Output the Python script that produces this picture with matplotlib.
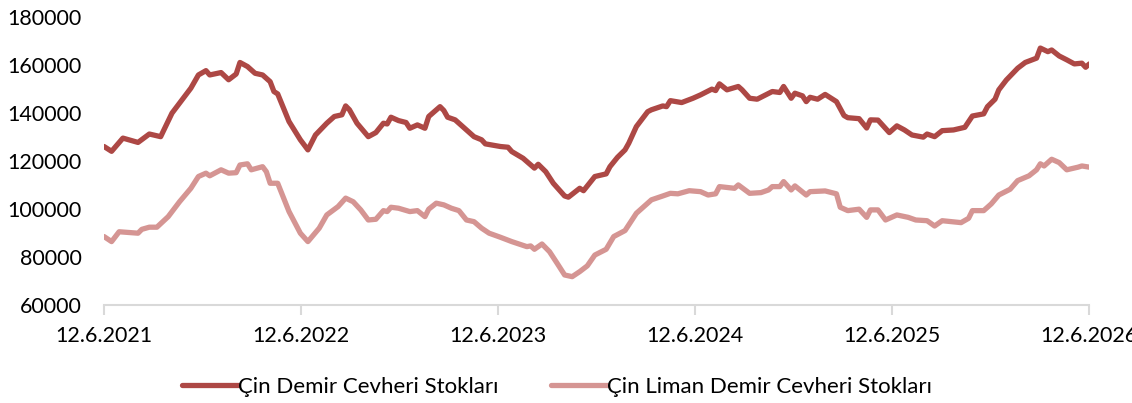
import pandas as pd
import matplotlib.pyplot as plt
import matplotlib.dates as mdates

start = pd.Timestamp("2021-06-12")

# weekly data, weeks since 12.6.2021
dark_weeks = [0, 2, 5, 9, 12, 15, 18, 23, 25, 27, 28, 31, 33, 35, 36, 38, 40, 42, 44, 45,
              46, 49, 52, 54, 56, 59, 61, 63, 64, 65, 67, 70, 72, 74, 75, 76, 78, 80, 81, 83,
              85, 86, 89, 90, 91, 93, 95, 98, 100, 101, 105, 107, 108, 111, 114, 115, 117, 119, 122, 123,
              126, 127, 130, 133, 134, 136, 138, 139, 141, 144, 145, 148, 149, 150, 153, 156, 158, 161, 162, 163,
              165, 168, 169, 171, 173, 177, 179, 180, 182, 183, 185, 186, 187, 189, 191, 194, 196, 197, 200, 202,
              203, 205, 208, 210, 212, 214, 217, 218, 220, 222, 225, 228, 230, 233, 234, 236, 237, 239, 242, 244,
              247, 248, 250, 251, 253, 255, 257, 259, 260, 261]
dark_vals = [126000, 124000, 129500, 127700, 131200, 130100, 139900, 150300, 155800, 157600,
             155800, 156800, 153800, 156200, 161000, 159300, 156500, 155800, 153000, 148900,
             147900, 136400, 128800, 124600, 130800, 135700, 138500, 139200, 142900, 141300,
             135700, 130100, 131800, 135700, 135400, 138200, 136800, 136000, 133600, 135000,
             133600, 138500, 142600, 141000, 138200, 137100, 134300, 130100, 128800, 127100,
             126000, 125700, 123900, 121100, 117000, 118600, 115500, 110700, 105400, 104900,
             108600, 107600, 113500, 114600, 117600, 121500, 124600, 127400, 134300, 140500,
             141300, 142900, 142600, 145100, 144300, 146100, 147500, 149900, 149300, 152100,
             149600, 151000, 149600, 146100, 145700, 148900, 148500, 151000, 146100, 148200,
             147100, 144700, 146500, 145700, 147700, 144700, 138900, 138000, 137600, 133700,
             137100, 137000, 131800, 134600, 132900, 130800, 129900, 131200, 130100, 132600,
             132900, 134000, 138700, 139600, 142600, 145700, 149600, 153700, 158600, 161000,
             162800, 167000, 165500, 166200, 163700, 162100, 160400, 160700, 159000, 160400]

light_weeks = [0, 2, 4, 9, 10, 12, 14, 17, 20, 23, 25, 27, 28, 31, 33, 35, 36, 38, 39, 42,
               43, 44, 46, 49, 52, 54, 57, 59, 62, 64, 66, 68, 70, 72, 74, 75, 76, 78, 81, 83,
               85, 86, 88, 90, 92, 94, 96, 98, 100, 102, 105, 108, 112, 113, 114, 116, 118, 120, 122, 124,
               126, 128, 130, 133, 135, 138, 141, 145, 148, 150, 152, 155, 158, 160, 162, 163, 167, 168, 171, 174,
               176, 177, 179, 180, 182, 183, 186, 187, 191, 194, 195, 197, 200, 202, 203, 205, 207, 210, 213, 215,
               218, 220, 222, 227, 229, 230, 233, 235, 237, 240, 242, 245, 247, 248, 249, 251, 253, 255, 258, 259,
               261]
light_vals = [88500, 86400, 90500, 89900, 91500, 92400, 92400, 96800, 103000, 108600,
              113500, 114900, 113800, 116300, 114900, 115100, 118300, 118800, 116300, 117600,
              115500, 110700, 110700, 98900, 89900, 86400, 92000, 97500, 101000, 104500,
              103000, 99600, 95400, 95700, 99300, 98900, 100700, 100300, 98900, 99300,
              96800, 99900, 102400, 101700, 100300, 99300, 95400, 94700, 92000, 89900,
              88200, 86400, 84300, 84600, 83200, 85400, 82200, 77400, 72500, 71800,
              73900, 76300, 80800, 83200, 88500, 91000, 98200, 103800, 105400, 106500,
              106300, 107600, 107200, 105800, 106300, 109300, 108600, 110000, 106500, 106800,
              107900, 109300, 109300, 111400, 107900, 109600, 105800, 107200, 107500, 106300,
              100700, 99300, 99900, 96500, 99600, 99600, 95400, 97500, 96500, 95400,
              95100, 92900, 95100, 94300, 96100, 99300, 99300, 102100, 105800, 108200,
              111800, 113800, 116300, 118800, 117900, 120700, 119300, 116300, 117400, 117900,
              117400]

labels = ["Çin Demir Cevheri Stokları", "Çin Liman Demir Cevheri Stokları"]
tick_dates = ["2021-06-12", "2022-06-12", "2023-06-12", "2024-06-12", "2025-06-12", "2026-06-12"]

dark_x = [start + pd.Timedelta(weeks=w) for w in dark_weeks]
light_x = [start + pd.Timedelta(weeks=w) for w in light_weeks]

plt.rcParams['font.family'] = ['Lato', 'DejaVu Sans']

fig = plt.figure(figsize=(11.32, 4.03), dpi=100)
ax = fig.add_axes([0.0919, 0.2432, 0.870, 0.715])

ax.plot(dark_x, dark_vals, color='#AD4845', lw=3.8, label=labels[0], solid_capstyle='round')
ax.plot(light_x, light_vals, color='#D59593', lw=3.8, label=labels[1], solid_capstyle='round')

ax.set_ylim(60000, 180000)
ax.set_yticks(range(60000, 180001, 20000))
ax.set_xlim(pd.Timestamp(tick_dates[0]), pd.Timestamp(tick_dates[-1]))
ax.set_xticks([pd.Timestamp(d) for d in tick_dates])
ax.xaxis.set_major_formatter(mdates.DateFormatter('%-d.%-m.%Y'))

for s in ['top', 'right', 'left']:
    ax.spines[s].set_visible(False)
ax.spines['bottom'].set_color('#D9D9D9')
ax.spines['bottom'].set_linewidth(1.5)
ax.tick_params(axis='x', length=7, width=1.5, color='#D9D9D9', pad=8, labelsize=15.5)
ax.tick_params(axis='y', length=0, pad=16, labelsize=15.5)

ax.legend(loc='upper center', bbox_to_anchor=(0.46, -0.18), ncol=2, frameon=False,
          fontsize=16, handlelength=2.5, handletextpad=0.0, columnspacing=2.4)

fig.savefig('out.png', dpi=100)
